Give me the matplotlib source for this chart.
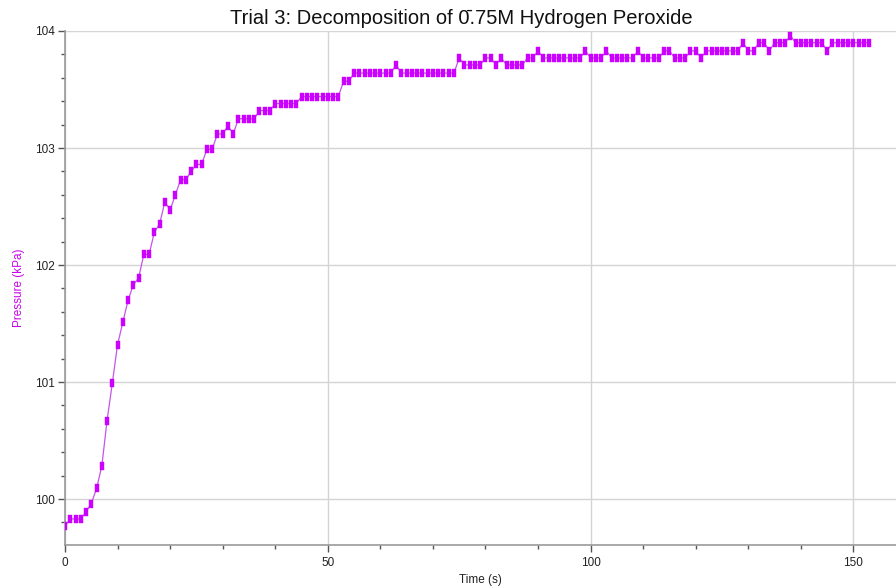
import matplotlib
matplotlib.use("Agg")
import matplotlib.pyplot as plt
from matplotlib.path import Path
from matplotlib.ticker import MultipleLocator

plt.rcParams['font.family'] = ['Liberation Sans', 'DejaVu Sans']

time_s = list(range(0, 154))
pressure_kpa = [
    99.77, 99.83, 99.83, 99.83, 99.89, 99.96, 100.09, 100.28, 100.67, 100.99,
    101.32, 101.51, 101.70, 101.83, 101.89, 102.09, 102.09, 102.28, 102.35, 102.54,
    102.47, 102.60, 102.73, 102.73, 102.80, 102.86, 102.86, 102.99, 102.99, 103.12,
    103.12, 103.19, 103.12, 103.25, 103.25, 103.25, 103.25, 103.32, 103.32, 103.32,
    103.38, 103.38, 103.38, 103.38, 103.38, 103.44, 103.44, 103.44, 103.44, 103.44,
    103.44, 103.44, 103.44, 103.57, 103.57, 103.64, 103.64, 103.64, 103.64, 103.64,
    103.64, 103.64, 103.64, 103.71, 103.64, 103.64, 103.64, 103.64, 103.64, 103.64,
    103.64, 103.64, 103.64, 103.64, 103.64, 103.77, 103.71, 103.71, 103.71, 103.71,
    103.77, 103.77, 103.71, 103.77, 103.71, 103.71, 103.71, 103.71, 103.77, 103.77,
    103.83, 103.77, 103.77, 103.77, 103.77, 103.77, 103.77, 103.77, 103.77, 103.83,
    103.77, 103.77, 103.77, 103.83, 103.77, 103.77, 103.77, 103.77, 103.77, 103.83,
    103.77, 103.77, 103.77, 103.77, 103.83, 103.83, 103.77, 103.77, 103.77, 103.83,
    103.83, 103.77, 103.83, 103.83, 103.83, 103.83, 103.83, 103.83, 103.83, 103.90,
    103.83, 103.83, 103.90, 103.90, 103.83, 103.90, 103.90, 103.90, 103.96, 103.90,
    103.90, 103.90, 103.90, 103.90, 103.90, 103.83, 103.90, 103.90, 103.90, 103.90,
    103.90, 103.90, 103.90, 103.90,
]

x_major = [0, 50, 100, 150]
y_major = [100, 101, 102, 103, 104]

title = "Trial 3: Decomposition of 0\u0304.75M Hydrogen Peroxide"

fig = plt.figure(figsize=(8.96, 5.86), dpi=100)
ax = fig.add_axes([65/896, 1 - 545/586, 1 - 65/896, (545 - 31)/586])

rect = Path([(-0.32, -0.5), (0.32, -0.5), (0.32, 0.5), (-0.32, 0.5), (-0.32, -0.5)],
            [Path.MOVETO, Path.LINETO, Path.LINETO, Path.LINETO, Path.CLOSEPOLY])

ax.plot(time_s, pressure_kpa, color='#c455e8', lw=0.9, zorder=3)
ax.plot(time_s, pressure_kpa, ls='none', marker=rect, markersize=5.4,
        markerfacecolor='#cc00ff', markeredgecolor='#cc00ff', markeredgewidth=0.3, zorder=4)

ax.set_xlim(0, 158.1)
ax.set_ylim(99.607, 104)
ax.set_xticks(x_major)
ax.set_yticks(y_major)
ax.xaxis.set_minor_locator(MultipleLocator(10))
ax.yaxis.set_minor_locator(MultipleLocator(0.2))
ax.grid(True, which='major', color='#d4d4d4', lw=1.0, zorder=0)
ax.set_axisbelow(True)

for s in ['top', 'right']:
    ax.spines[s].set_visible(False)
for s in ['left', 'bottom']:
    ax.spines[s].set_color('#999999')
    ax.spines[s].set_linewidth(1.2)

ax.tick_params(which='major', length=5, width=1, color='#555555', labelsize=8.5,
               labelcolor='#222222', pad=2)
ax.tick_params(which='minor', length=3, width=1, color='#555555')
ax.tick_params(axis='x', which='major', pad=4)

ax.set_xlabel('Time (s)', fontsize=8.5, color='#222222', labelpad=3)
ax.set_ylabel('Pressure (kPa)', fontsize=8.5, color='#cc00ee', labelpad=7.5)
fig.text(461/896, 1 - 19/586, title, ha='center', va='center',
         fontsize=14.5, color='#111111')

fig.savefig('out.png', dpi=100)
